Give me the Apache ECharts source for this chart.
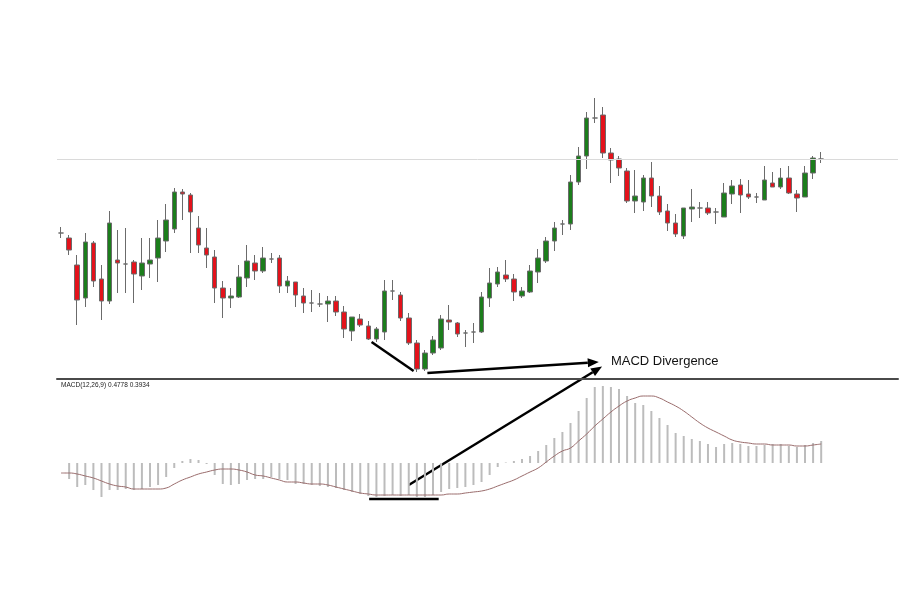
<!DOCTYPE html>
<html style="height: 100%">
<head>
 <meta charset="utf-8">
 <title>MACD Divergence</title>
 <script src="https://cdn.jsdelivr.net/npm/echarts@6/dist/echarts.min.js"></script>
</head>
<body style="height: 100%; margin: 0; background: #fff">
 <div id="container" style="width: 900px; height: 600px"></div>
 <script type="text/javascript">
    // price candles, one per bar (arbitrary price units)
    var opens  = [167,162,135,102,157,121, 99,140,136,138,124,136,142,159,171,208,205,172,152,143,
                  112,102,103,122,137,129,141,142,114,118,104, 97, 96, 96, 99, 88, 69, 81, 74, 61,
                   68,109,105, 82, 57, 31, 47, 52, 80, 77, 67, 68, 68,102,116,125,121,104,108,128,
                  139,159,176,176,218,244,282,285,247,241,229,199,198,222,204,189,177,164,191,192,
                  192,188,183,206,215,206,203,200,217,213,222,206,203,227,241];
    var closes = [167,150,100,158,119, 99,177,137,136,126,137,140,162,180,208,206,188,155,145,112,
                  102,104,123,139,129,142,141,114,119,105, 97, 97, 96, 99, 88, 71, 83, 75, 61, 71,
                  109,109, 82, 57, 31, 47, 60, 81, 78, 66, 67, 68,103,117,128,121,108,109,129,142,
                  159,172,176,218,244,282,282,247,240,232,199,204,222,204,188,177,166,192,193,192,
                  187,188,207,214,205,203,203,220,213,222,207,202,227,242,241];
    var lows   = [162,145, 75, 93,113, 80, 96,107,107, 97,110,122,118,148,167,180,147,147,132, 97,
                   82, 92,102,113,120,127,137,107,107, 93, 87, 88, 93, 78, 84, 62, 59, 73, 60, 58,
                   60,100, 79, 55, 28, 29, 45, 50, 70, 63, 53, 57, 67, 93,113,118, 99,102,107,117,
                  137,149,165,170,215,231,277,242,217,224,197,187,189,193,185,169,163,161,178,182,
                  185,176,183,196,187,201,197,200,213,211,206,188,203,221,237];
    var highs  = [173,165,145,167,159,135,189,170,172,140,162,162,180,196,212,211,207,184,172,150,
                  119,112,135,155,145,153,147,145,124,118,112,110,107,104,104, 94, 83, 86, 79, 73,
                  120,120,108, 87, 60, 50, 64, 85, 95, 78, 70, 77,108,132,133,140,126,113,135,151,
                  163,178,180,225,253,288,302,293,252,244,232,230,225,238,214,196,186,192,211,198,
                  198,192,217,220,221,220,207,234,228,232,234,210,234,244,248];

    // MACD histogram and signal line
    var macdHist = [null,
                  -16,-24,-22,-27,-34,-27,-27,-26,-27,-26,-24,-22,-14,-5,2,4,3,-1,-12,-21,
                  -22,-21,-17,-16,-16,-14,-16,-17,-21,-21,-22,-23,-24,-25,-27,-29,-31,-33,-34,-33,
                  -32,-33,-32,-34,-34,-32,-29,-26,-25,-24,-22,-19,-12,-4,0.5,2,4,7,12,18,
                  25,31,40,52,65,76,77,76,74,67,60,58,52,45,38,30,27,24,22,19,
                  16,19,20,19,17,17,18,19,19,17,16,18,20,22];
    var macdSignal = [-10,-10,-11,-13,-15,-18,-21,-23,-24,-26,-26,-26,-26,-25,-21,-17,-14,-11,-9,-7,
                  -6,-6,-7,-9,-12,-13,-15,-17,-19,-19,-20,-21,-21,-22,-24,-26,-28,-30,-31,-32,
                  -32,-32,-32,-32,-32,-32,-32,-32,-31,-31,-30,-29,-28,-26,-23,-20,-17,-13,-9,-5,
                  1,7,12,15,22,29,37,44,51,57,62,65,67,67,65,61,57,52,46,40,
                  35,31,27,23,21,20,19,19,18,18,18,17,17,18,19];

    var days = opens.map(function (v, i) { return String(i + 1); });
    var levelLine = 241;
    var macdLabel = 'MACD(12,26,9) 0.4778 0.3934';
    var noteText = 'MACD Divergence';

    var candles = opens.map(function (o, i) {
        return [o, closes[i], lows[i], highs[i]];
    });

    var dom = document.getElementById('container');
    var myChart = echarts.init(dom, null, {renderer: 'canvas'});

    myChart.setOption({
        animation: false,
        backgroundColor: '#ffffff',
        title: {
            text: macdLabel,
            left: 61,
            top: 382,
            padding: 0,
            textStyle: {
                fontSize: 6.5,
                fontWeight: 'normal',
                fontFamily: 'Liberation Sans',
                color: '#222'
            }
        },
        grid: [
            {left: 57, right: 2, top: 59, height: 320},
            {left: 57, right: 2, top: 380, height: 140}
        ],
        xAxis: [
            {
                type: 'category', gridIndex: 0, data: days, max: 103, boundaryGap: true,
                axisLine: {show: true, lineStyle: {color: '#4a4a4a', width: 2}},
                axisTick: {show: false}, axisLabel: {show: false}, splitLine: {show: false}
            },
            {
                type: 'category', gridIndex: 1, data: days, max: 103, boundaryGap: true,
                axisLine: {show: false}, axisTick: {show: false},
                axisLabel: {show: false}, splitLine: {show: false}
            }
        ],
        yAxis: [
            {
                type: 'value', gridIndex: 0, min: 21, max: 341, show: false,
                splitLine: {show: false}
            },
            {
                type: 'value', gridIndex: 1, min: -57, max: 83, show: false,
                splitLine: {show: false}
            }
        ],
        series: [
            {
                type: 'candlestick',
                xAxisIndex: 0, yAxisIndex: 0,
                data: candles,
                barWidth: 5,
                itemStyle: {
                    color: '#1b7d1b',
                    color0: '#e3121b',
                    borderColor: '#6b6b6b',
                    borderColor0: '#6b6b6b',
                    borderWidth: 1
                },
                markLine: {
                    silent: true,
                    symbol: ['none', 'none'],
                    label: {show: false},
                    lineStyle: {color: '#dadada', width: 1, type: 'solid'},
                    data: [{yAxis: levelLine}]
                }
            },
            {
                type: 'bar',
                xAxisIndex: 1, yAxisIndex: 1,
                data: macdHist,
                barWidth: 2,
                itemStyle: {color: '#bcbcbc'}
            },
            {
                type: 'line',
                xAxisIndex: 1, yAxisIndex: 1,
                data: macdSignal,
                smooth: true,
                showSymbol: false,
                lineStyle: {color: '#9a6c6c', width: 1}
            }
        ]
    });

    // annotation anchors: [bar index, value, grid]
    var lowTrend  = [[38.4, 58, 0], [43.6, 29, 0]];
    var priceArrow = [[45.3, 27, 0], [66.5, 38, 0]];
    var macdArrow = [[43.0, -22, 1], [66.9, 33.5, 0]];
    var macdBase  = [[38.1, -36, 1], [46.7, -36, 1]];
    var noteAt    = [68.0, 39, 0];

    function toPx(p) {
        var i = Math.floor(p[0]), f = p[0] - i;
        var a = myChart.convertToPixel({xAxisIndex: p[2], yAxisIndex: p[2]}, [i, p[1]]);
        var b = myChart.convertToPixel({xAxisIndex: p[2], yAxisIndex: p[2]}, [i + 1, p[1]]);
        return [a[0] + f * (b[0] - a[0]), a[1]];
    }

    function segment(pts) {
        var a = toPx(pts[0]), b = toPx(pts[1]);
        return {type: 'line', silent: true,
            shape: {x1: a[0], y1: a[1], x2: b[0], y2: b[1]},
            style: {stroke: '#000', lineWidth: 2.5}};
    }

    function arrow(pts) {
        var a = toPx(pts[0]), b = toPx(pts[1]);
        var dx = b[0] - a[0], dy = b[1] - a[1];
        var L = Math.sqrt(dx * dx + dy * dy), ux = dx / L, uy = dy / L;
        var len = 11, hw = 4.5;
        var bx = b[0] - ux * len, by = b[1] - uy * len;
        return [
            {type: 'line', silent: true,
                shape: {x1: a[0], y1: a[1], x2: bx, y2: by},
                style: {stroke: '#000', lineWidth: 2.5}},
            {type: 'polygon', silent: true,
                shape: {points: [b, [bx - uy * hw, by + ux * hw], [bx + uy * hw, by - ux * hw]]},
                style: {fill: '#000'}}
        ];
    }

    var notePx = toPx(noteAt);
    var shapes = [segment(lowTrend), segment(macdBase)]
        .concat(arrow(priceArrow))
        .concat(arrow(macdArrow));
    shapes.push({
        type: 'text', silent: true,
        x: notePx[0], y: notePx[1],
        style: {
            text: noteText,
            fill: '#111',
            font: '13px "Liberation Sans", Arial, sans-serif',
            textVerticalAlign: 'middle',
            verticalAlign: 'middle'
        }
    });

    myChart.setOption({graphic: shapes});
</script>
</body>
</html>
